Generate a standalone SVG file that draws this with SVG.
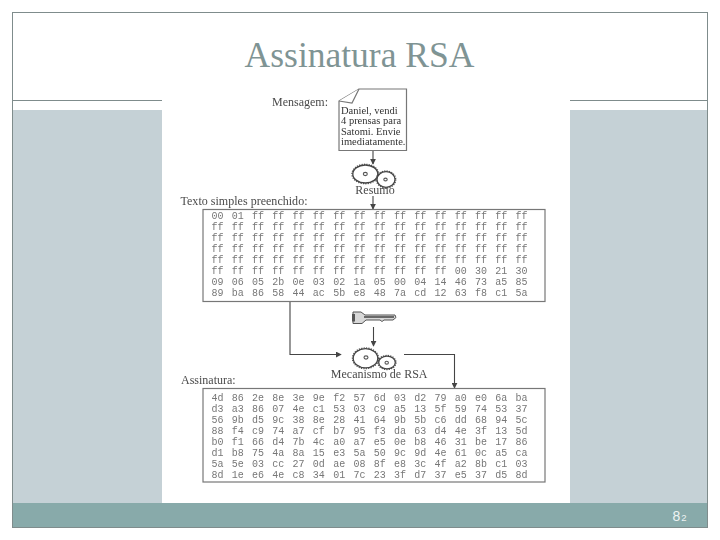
<svg xmlns="http://www.w3.org/2000/svg" width="720" height="540" viewBox="0 0 720 540">
<style>
.hex{font:10px "Liberation Mono",monospace;fill:#777;word-spacing:2.27px}
.lbl{font-family:"Liberation Serif",serif;font-size:12px;fill:#4a4a4a}
.doc{font-family:"Liberation Serif",serif;font-size:10.500px;fill:#333}
.ln{fill:none;stroke:#444;stroke-width:1.1}
.box{fill:#fff;stroke:#777;stroke-width:1.2}
.gear{fill:#fff;stroke:#444;stroke-width:1.300}
.teeth{fill:none;stroke:#555;stroke-width:1.400;stroke-dasharray:1.200 1.200}
.hub{fill:#fff;stroke:#555;stroke-width:1.100}
</style>
<defs>
<marker id="ah" viewBox="0 0 8 8" refX="7" refY="4" markerWidth="6" markerHeight="6" markerUnits="userSpaceOnUse" orient="auto"><path d="M0 0L8 4L0 8Z" fill="#444"/></marker>
<filter id="soft" x="-2%" y="-2%" width="104%" height="104%"><feGaussianBlur stdDeviation="0.35"/></filter>
</defs>
<rect width="720" height="540" fill="#fff"/>
<g id="slide">
<rect x="12" y="110" width="696" height="393" fill="#c5d1d6"/>
<rect x="12" y="503" width="696" height="24.5" fill="#88aaaa"/>
<path d="M12.500 100.500H162M570 100.500H708" fill="none" stroke="#7f8c8c" stroke-width="1"/>
<rect x="12.500" y="12.500" width="695" height="515" fill="none" stroke="#7f8c8c" stroke-width="1"/>
<rect x="162" y="85" width="408" height="418" fill="#fff"/>
</g>
<text id="title" x="359.500" y="67" text-anchor="middle" font-family="Liberation Serif, serif" font-size="35.500" fill="#7f9494">Assinatura RSA</text>
<g filter="url(#soft)">
<g id="connectors">
<path class="ln" d="M373 151V164" marker-end="url(#ah)"/>
<path class="ln" d="M373 196V209" marker-end="url(#ah)"/>
<path class="ln" d="M290 302V354.500H341" marker-end="url(#ah)"/>
<path class="ln" d="M373.500 327V346" marker-end="url(#ah)"/>
<path class="ln" d="M404 354.500H454.500V388" marker-end="url(#ah)"/>
</g>
<g id="mensagem-label"><text class="lbl" x="272" y="105.500">Mensagem:</text></g>
<g id="documento">
<path class="box" d="M339 101L359 89H406.500V150.500H339Z"/>
<path class="box" d="M339 101L352 103L359 89"/>
<text class="doc" x="341" y="113.500">Daniel, vendi</text>
<text class="doc" x="341" y="124">4 prensas para</text>
<text class="doc" x="341" y="134.500">Satomi. Envie</text>
<text class="doc" x="341" y="144.500">imediatamente.</text>
</g>
<g id="resumo">
<ellipse class="teeth" cx="365.300" cy="174" rx="13.300" ry="9.700"/><ellipse class="gear" cx="365.300" cy="174" rx="12.500" ry="9"/><ellipse class="hub" cx="365.300" cy="174" rx="2" ry="1.600"/>
<ellipse class="teeth" cx="386" cy="179.500" rx="9.700" ry="8.500"/><ellipse class="gear" cx="386" cy="179.500" rx="9" ry="7.800"/><ellipse class="hub" cx="385.500" cy="179.500" rx="1.700" ry="1.400"/>
<text class="lbl" x="375" y="193.500" text-anchor="middle">Resumo</text>
</g>
<g id="texto-label"><text class="lbl" x="180.500" y="205" textLength="127">Texto simples preenchido:</text></g>
<g id="texto">
<rect class="box" x="203" y="209.500" width="342" height="92"/>
<text class="hex" x="211.500" y="219">00 01 ff ff ff ff ff ff ff ff ff ff ff ff ff ff</text>
<text class="hex" x="211.500" y="230">ff ff ff ff ff ff ff ff ff ff ff ff ff ff ff ff</text>
<text class="hex" x="211.500" y="241">ff ff ff ff ff ff ff ff ff ff ff ff ff ff ff ff</text>
<text class="hex" x="211.500" y="252">ff ff ff ff ff ff ff ff ff ff ff ff ff ff ff ff</text>
<text class="hex" x="211.500" y="263">ff ff ff ff ff ff ff ff ff ff ff ff ff ff ff ff</text>
<text class="hex" x="211.500" y="274">ff ff ff ff ff ff ff ff ff ff ff ff 00 30 21 30</text>
<text class="hex" x="211.500" y="285">09 06 05 2b 0e 03 02 1a 05 00 04 14 46 73 a5 85</text>
<text class="hex" x="211.500" y="296">89 ba 86 58 44 ac 5b e8 48 7a cd 12 63 f8 c1 5a</text>
</g>
<g id="chave">
<path d="M353 312H361L365 315H395L396 317.500L393 320H384L382 321.500L380 320H366L362 323.500H353Z" fill="#d8d8d8" stroke="#555" stroke-width="1"/>
<path d="M364 317H394" stroke="#444" stroke-width="1.500"/>
<rect x="352" y="314" width="3" height="7.500" fill="#555"/>
</g>
<g id="mecanismo">
<ellipse class="teeth" cx="365.500" cy="358.300" rx="13" ry="10.300"/><ellipse class="gear" cx="365.500" cy="358.300" rx="12.300" ry="9.600"/><ellipse class="hub" cx="366" cy="357.500" rx="2" ry="1.600"/>
<ellipse class="teeth" cx="387" cy="362.500" rx="9" ry="7"/><ellipse class="gear" cx="387" cy="362.500" rx="8.300" ry="6.300"/><ellipse class="hub" cx="386.700" cy="362.700" rx="1.700" ry="1.400"/>
<text class="lbl" x="379.200" y="377.500" text-anchor="middle">Mecanismo de RSA</text>
</g>
<g id="assinatura-label"><text class="lbl" x="181" y="384">Assinatura:</text></g>
<g id="assinatura">
<rect class="box" x="203" y="388.500" width="342" height="93.500"/>
<text class="hex" x="211.500" y="400.500">4d 86 2e 8e 3e 9e f2 57 6d 03 d2 79 a0 e0 6a ba</text>
<text class="hex" x="211.500" y="411.500">d3 a3 86 07 4e c1 53 03 c9 a5 13 5f 59 74 53 37</text>
<text class="hex" x="211.500" y="422.500">56 9b d5 9c 38 8e 28 41 64 9b 5b c6 dd 68 94 5c</text>
<text class="hex" x="211.500" y="433.500">88 f4 c9 74 a7 cf b7 95 f3 da 63 d4 4e 3f 13 5d</text>
<text class="hex" x="211.500" y="444.500">b0 f1 66 d4 7b 4c a0 a7 e5 0e b8 46 31 be 17 86</text>
<text class="hex" x="211.500" y="455.500">d1 b8 75 4a 8a 15 e3 5a 50 9c 9d 4e 61 0c a5 ca</text>
<text class="hex" x="211.500" y="466.500">5a 5e 03 cc 27 0d ae 08 8f e8 3c 4f a2 8b c1 03</text>
<text class="hex" x="211.500" y="477.500">8d 1e e6 4e c8 34 01 7c 23 3f d7 37 e5 37 d5 8d</text>
</g>
</g>
<text id="page" x="672.500" y="520.500" font-family="Liberation Sans, sans-serif" font-size="14" fill="#eef3f3">8<tspan dx="1" font-size="9.500">2</tspan></text>
</svg>
